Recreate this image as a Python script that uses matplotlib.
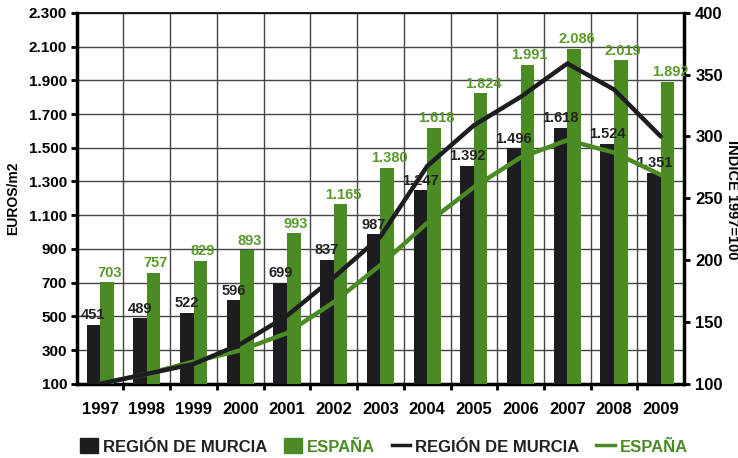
import matplotlib
matplotlib.use("Agg")
import matplotlib.pyplot as plt
from matplotlib.patches import Patch
from matplotlib.lines import Line2D
from matplotlib.ticker import FuncFormatter

plt.rcParams['font.family'] = ['Liberation Sans', 'DejaVu Sans']
plt.rcParams['font.weight'] = 'bold'

years = ['1997', '1998', '1999', '2000', '2001', '2002', '2003', '2004',
         '2005', '2006', '2007', '2008', '2009']
murcia = [451, 489, 522, 596, 699, 837, 987, 1247, 1392, 1496, 1618, 1524, 1351]
espana = [703, 757, 829, 893, 993, 1165, 1380, 1618, 1824, 1991, 2086, 2019, 1892]
idx_murcia = [100, 108, 116, 132, 155, 186, 219, 276, 309, 332, 359, 338, 300]
idx_espana = [100, 108, 118, 127, 141, 166, 196, 230, 259, 283, 297, 287, 269]

BLACK = '#1d1c21'
GREEN = '#4a8c23'
GREEN_TXT = '#5a9a2a'


def es_fmt(v, pos=None):
    return f'{int(v):,}'.replace(',', '.')


fig = plt.figure(figsize=(7.38, 4.58), dpi=100)
ax = fig.add_axes([0.104, 0.162, 0.823, 0.810])
x = list(range(len(years)))
w = 0.29

ax.bar([i - w / 2 for i in x], murcia, width=w, color=BLACK, zorder=3)
ax.bar([i + w / 2 for i in x], espana, width=w, color=GREEN, zorder=3)

for i in x:
    ax.text(i - w / 2, murcia[i] + 15, es_fmt(murcia[i]), ha='center', va='bottom',
            fontsize=10.5, color='#222222', fontweight='bold', zorder=4)
    ax.text(i + w / 2 + 0.05, espana[i] + 15, es_fmt(espana[i]), ha='center', va='bottom',
            fontsize=10.5, color=GREEN_TXT, fontweight='bold', zorder=4)

ax.set_xlim(-0.5, len(years) - 0.5)
ax.set_ylim(100, 2300)
ax.set_yticks(range(100, 2301, 200))
ax.yaxis.set_major_formatter(FuncFormatter(es_fmt))
ax.set_xticks(x)
ax.set_xticklabels(years, fontsize=12, fontweight='bold')
ax.set_xticks([i + 0.5 for i in x[:-1]], minor=True)
ax.tick_params(axis='x', which='major', length=0, pad=13)
ax.tick_params(axis='x', which='minor', length=4, width=2, direction='out')
ax.tick_params(axis='y', labelsize=11, length=4, width=2, pad=3)
ax.grid(axis='y', color='#444444', linewidth=1.0, zorder=0)
ax.grid(axis='x', which='minor', color='#444444', linewidth=1.0, zorder=0)
ax.set_axisbelow(True)
ax.set_ylabel('EUROS/m2', fontsize=10, fontweight='bold', labelpad=6)
for s in ['left', 'bottom', 'right']:
    ax.spines[s].set_linewidth(2.5)
    ax.spines[s].set_color('black')
ax.spines['top'].set_linewidth(1.2)

ax2 = ax.twinx()
ax2.plot(x, idx_espana, color=GREEN, linewidth=3.2, solid_joinstyle='round',
         solid_capstyle='round', zorder=5)
ax2.plot(x, idx_murcia, color=BLACK, linewidth=3.2, solid_joinstyle='round',
         solid_capstyle='round', zorder=6)
ax2.set_ylim(100, 400)
ax2.set_yticks(range(100, 401, 50))
ax2.tick_params(axis='y', labelsize=12, length=4, width=2, pad=4)
ax2.set_ylabel('ÍNDICE 1997=100', fontsize=10.5, fontweight='bold', rotation=-90,
               va='center', ha='center')
ax2.yaxis.set_label_coords(1.078, 0.495)
for s in ax2.spines.values():
    s.set_visible(False)

handles = [Patch(color=BLACK), Patch(color=GREEN),
           Line2D([], [], color=BLACK, linewidth=2.5),
           Line2D([], [], color=GREEN, linewidth=2.5)]
labels = ['REGIÓN DE MURCIA', 'ESPAÑA', 'REGIÓN DE MURCIA', 'ESPAÑA']
leg = fig.legend(handles, labels, loc='center', bbox_to_anchor=(0.52, 0.025), ncol=4,
                 frameon=False, fontsize=12, handlelength=1.1, handleheight=1.0,
                 handletextpad=0.3, columnspacing=1.0)
for t, c in zip(leg.get_texts(), ['#222222', GREEN, '#222222', GREEN]):
    t.set_color(c)
    t.set_fontweight('bold')

fig.savefig('out.png', dpi=100)
